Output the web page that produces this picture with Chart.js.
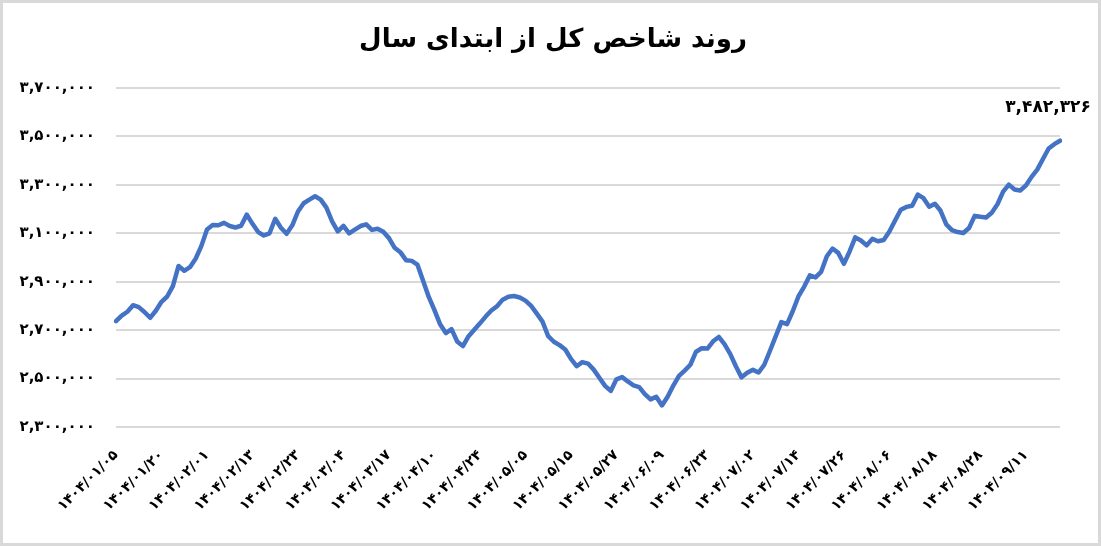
<!DOCTYPE html>
<html>
<head>
<meta charset="utf-8">
<script src="https://cdn.jsdelivr.net/npm/chart.js@4.4.1/dist/chart.umd.min.js"></script>
<style>
  html, body { margin: 0; padding: 0; background: #ffffff; }
  #wrap { position: relative; width: 1101px; height: 546px; }
</style>
</head>
<body>
<div id="wrap"><canvas id="indexChart" width="1101" height="546"></canvas></div>
<script>
// Chart title and last value label
const chartTitle = 'روند شاخص کل از ابتدای سال';
const lastValueLabel = '۳,۴۸۲,۳۲۶';

// Dates shown on the x axis (one every 8 trading days)
const tickLabels = [
    '۱۴۰۴/۰۱/۰۵', '۱۴۰۴/۰۱/۲۰', '۱۴۰۴/۰۲/۰۱', '۱۴۰۴/۰۲/۱۳', '۱۴۰۴/۰۲/۲۳',
    '۱۴۰۴/۰۳/۰۴', '۱۴۰۴/۰۳/۱۷', '۱۴۰۴/۰۴/۱۰', '۱۴۰۴/۰۴/۲۴', '۱۴۰۴/۰۵/۰۵',
    '۱۴۰۴/۰۵/۱۵', '۱۴۰۴/۰۵/۲۷', '۱۴۰۴/۰۶/۰۹', '۱۴۰۴/۰۶/۲۳', '۱۴۰۴/۰۷/۰۲',
    '۱۴۰۴/۰۷/۱۴', '۱۴۰۴/۰۷/۲۶', '۱۴۰۴/۰۸/۰۶', '۱۴۰۴/۰۸/۱۸', '۱۴۰۴/۰۸/۲۸',
    '۱۴۰۴/۰۹/۱۱'
];
const labelEvery = 8;

// Total index, one value per trading day
const indexValues = [
    2737000, 2760000, 2776000, 2803000, 2795000, 2775000, 2751000, 2780000, 2817000, 2839000,
    2882000, 2965000, 2945000, 2960000, 2995000, 3047000, 3116000, 3134000, 3133000, 3143000,
    3130000, 3124000, 3131000, 3177000, 3139000, 3105000, 3091000, 3100000, 3160000, 3123000,
    3098000, 3133000, 3190000, 3224000, 3239000, 3253000, 3239000, 3206000, 3149000, 3108000,
    3131000, 3100000, 3115000, 3130000, 3137000, 3114000, 3119000, 3106000, 3080000, 3040000,
    3022000, 2989000, 2986000, 2971000, 2904000, 2837000, 2783000, 2724000, 2688000, 2704000,
    2653000, 2634000, 2675000, 2702000, 2728000, 2756000, 2781000, 2799000, 2826000, 2838000,
    2841000, 2835000, 2822000, 2800000, 2768000, 2735000, 2675000, 2652000, 2638000, 2620000,
    2581000, 2551000, 2568000, 2562000, 2537000, 2503000, 2470000, 2449000, 2497000, 2506000,
    2488000, 2472000, 2465000, 2436000, 2414000, 2425000, 2389000, 2425000, 2471000, 2511000,
    2533000, 2557000, 2611000, 2625000, 2624000, 2654000, 2672000, 2642000, 2602000, 2551000,
    2505000, 2524000, 2536000, 2525000, 2557000, 2615000, 2674000, 2733000, 2725000, 2778000,
    2839000, 2879000, 2926000, 2918000, 2941000, 3005000, 3037000, 3019000, 2974000, 3025000,
    3083000, 3070000, 3050000, 3077000, 3067000, 3072000, 3107000, 3153000, 3197000, 3209000,
    3214000, 3260000, 3245000, 3210000, 3222000, 3193000, 3137000, 3113000, 3105000, 3101000,
    3122000, 3172000, 3168000, 3165000, 3185000, 3220000, 3272000, 3301000, 3281000, 3277000,
    3297000, 3333000, 3363000, 3407000, 3450000, 3468000, 3482326
];

// Y axis range
const yMin = 2300000;
const yMax = 3700000;
const yStep = 200000;

const faFont = "'DejaVu Sans', 'Noto Sans', sans-serif";
const persianDigits = '۰۱۲۳۴۵۶۷۸۹';

function toPersian(num) {
    return num.toLocaleString('en-US').replace(/[0-9]/g, d => persianDigits[+d]);
}

// x labels: only every 8th category gets a date
var categories = indexValues.map((v, i) => i % labelEvery === 0 ? tickLabels[i / labelEvery] : '');

// white background, grey frame and the title (centred on the whole picture)
const framePlugin = {
    id: 'frame',
    beforeDraw(chart) {
        const c = chart.ctx;
        c.save();
        c.fillStyle = '#ffffff';
        c.fillRect(0, 0, chart.width, chart.height);
        c.strokeStyle = '#d9d9d9';
        c.lineWidth = 3;
        c.strokeRect(1.5, 1.5, chart.width - 3, chart.height - 3);
        c.font = 'bold 26px ' + faFont;
        c.fillStyle = '#000000';
        c.textAlign = 'center';
        c.textBaseline = 'middle';
        c.fillText(chartTitle, 553, 40);
        c.restore();
    }
};

// value label above the last point
const lastLabelPlugin = {
    id: 'lastLabel',
    afterDatasetsDraw(chart) {
        const meta = chart.getDatasetMeta(0);
        const pt = meta.data[meta.data.length - 1];
        const c = chart.ctx;
        c.save();
        c.font = 'bold 17px ' + faFont;
        c.fillStyle = '#000000';
        c.textAlign = 'center';
        c.textBaseline = 'middle';
        c.fillText(lastValueLabel, pt.x - 12, pt.y - 33);
        c.restore();
    }
};

var ctx = document.getElementById('indexChart').getContext('2d');

var indexChart = new Chart(ctx, {
    type: 'line',
    data: {
        labels: categories,
        datasets: [{
            data: indexValues,
            borderColor: '#4472C4',
            borderWidth: 4.5,
            pointRadius: 0,
            tension: 0,
            borderJoinStyle: 'round',
            borderCapStyle: 'round'
        }]
    },
    options: {
        responsive: false,
        animation: false,
        devicePixelRatio: 1,
        layout: {
            padding: { top: 88, right: 41, bottom: 0, left: 0 }
        },
        plugins: {
            legend: { display: false },
            tooltip: { enabled: false },
            title: { display: false }
        },
        scales: {
            x: {
                offset: false,
                grid: { display: false },
                border: { display: false },
                ticks: {
                    autoSkip: false,
                    maxRotation: 45,
                    minRotation: 45,
                    padding: 12,
                    color: '#000000',
                    font: { family: faFont, size: 14, weight: 'bold' }
                },
                afterFit(scale) { scale.height = 119; }
            },
            y: {
                min: yMin,
                max: yMax,
                grid: { color: '#d9d9d9', lineWidth: 2, drawTicks: false },
                border: { display: false },
                ticks: {
                    stepSize: yStep,
                    padding: 21,
                    color: '#000000',
                    font: { family: faFont, size: 15, weight: 'bold' },
                    callback: v => toPersian(v)
                },
                afterFit(scale) { scale.width = 116; }
            }
        }
    },
    plugins: [framePlugin, lastLabelPlugin]
});
</script>
</body>
</html>
